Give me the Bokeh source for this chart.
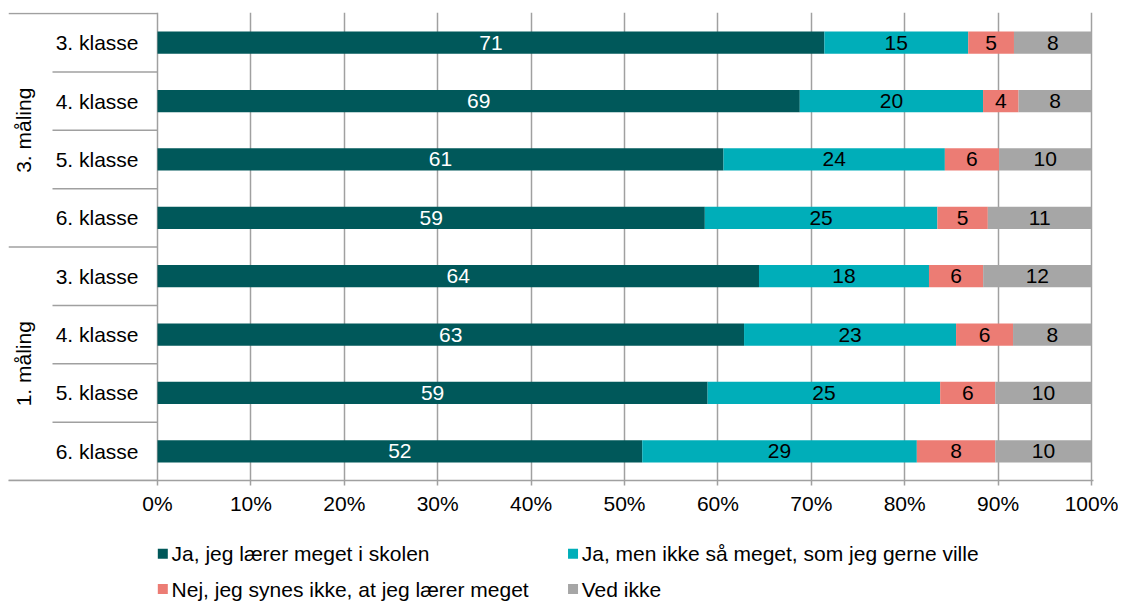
import numpy as np
from bokeh.plotting import figure
from bokeh.models import ColumnDataSource, Range1d, FixedTicker, NumeralTickFormatter
from bokeh.layouts import column
from bokeh.core.properties import value
from bokeh.embed import file_html
from bokeh.resources import INLINE

# ---------------- data ----------------
groups = ["3. måling", "1. måling"]
classes = ["3. klasse", "4. klasse", "5. klasse", "6. klasse"]
series = [
    "Ja, jeg lærer meget i skolen",
    "Ja, men ikke så meget, som jeg gerne ville",
    "Nej, jeg synes ikke, at jeg lærer meget",
    "Ved ikke",
]
# rows top to bottom: 3. måling (3.-6. klasse), then 1. måling (3.-6. klasse)
ja_meget = [71.4, 68.7, 60.6, 58.6, 64.4, 62.8, 58.9, 51.9]
ja_ikke_saa = [15.4, 19.6, 23.7, 24.9, 18.2, 22.7, 24.9, 29.4]
nej = [4.9, 3.8, 5.8, 5.4, 5.8, 6.1, 5.9, 8.4]
ved_ikke = [8.3, 7.8, 9.9, 11.1, 11.6, 8.4, 10.3, 10.3]
tick_values = [0, 10, 20, 30, 40, 50, 60, 70, 80, 90, 100]

colors = ["#00585a", "#00aeb9", "#ec7c74", "#a6a6a6"]
label_colors = ["white", "black", "black", "black"]
FONT = "Liberation Sans"
FS = "21px"
GRID = "#a0a0a0"

# ---------------- layout constants (pixels) ----------------
W = 1118
px_per_unit = 934.0        # 0% -> 100%
frame_left = 8
left_px = 149.0            # frame left to 0%
right_px = 2.0
frame_top = 12
row_px = 58.375
bottom_border = 45
sub_sep_px = 105.0         # sub-separator length left of axis

vals = np.array([ja_meget, ja_ikke_saa, nej, ved_ikke], dtype=float)  # 4 x 8
tot = vals.sum(axis=0)
frac = vals / tot
n = vals.shape[1]
ys = np.arange(n) + 0.5

frame_h = int(round(n * row_px + 1))
H_MAIN = frame_top + frame_h + bottom_border
H_LEG = 601 - H_MAIN
frame_w = int(left_px + px_per_unit + right_px)

src = ColumnDataSource(dict(y=ys, s0=frac[0], s1=frac[1], s2=frac[2], s3=frac[3]))

p = figure(
    width=W, height=H_MAIN,
    x_range=Range1d(-left_px / px_per_unit, 1 + right_px / px_per_unit),
    y_range=Range1d(n, -1.0 / row_px),
    output_backend="svg", toolbar_location=None,
    y_axis_location=None,
    min_border_left=frame_left, min_border_right=W - frame_left - frame_w,
    min_border_top=frame_top, min_border_bottom=bottom_border,
)
p.outline_line_color = None
p.ygrid.visible = False
ticks = [t / 100 for t in tick_values]
p.xgrid.ticker = FixedTicker(ticks=ticks)
p.xgrid.grid_line_color = GRID
p.xgrid.grid_line_width = 1.5

ax = p.xaxis[0]
ax.ticker = FixedTicker(ticks=ticks)
ax.formatter = NumeralTickFormatter(format="0%")
ax.axis_line_color = GRID
ax.axis_line_width = 1.5
ax.major_tick_line_color = GRID
ax.major_tick_line_width = 1.5
ax.major_tick_in = 0
ax.major_tick_out = 5
ax.minor_tick_line_color = None
ax.major_label_text_font = FONT
ax.major_label_text_font_size = FS
ax.major_label_text_color = "black"
ax.major_label_standoff = 6

# separators in the category area
x0s, x1s, y0s = [], [], []
xmin = -left_px / px_per_unit
for k in range(n + 1):
    if k % 4 == 0:
        x0s.append(xmin)
    else:
        x0s.append(-sub_sep_px / px_per_unit)
    x1s.append(0)
    y0s.append(k)
p.segment(x0=x0s, y0=y0s, x1=x1s, y1=y0s, line_color=GRID, line_width=1.5)

# bars
p.hbar_stack(["s0", "s1", "s2", "s3"], y="y", height=0.382, color=colors,
             line_color=None, source=src)

# bar labels
cum = np.cumsum(frac, axis=0) - frac
lx, ly, lt, lc = [], [], [], []
for s in range(vals.shape[0]):
    for r in range(n):
        lx.append(cum[s, r] + frac[s, r] / 2)
        ly.append(ys[r])
        lt.append(str(int(np.floor(vals[s, r] + 0.5))))
        lc.append(label_colors[s])
lsrc = ColumnDataSource(dict(x=lx, y=ly, t=lt, c=lc))
p.text(x="x", y="y", text="t", text_color="c", source=lsrc,
       text_align="center", text_baseline="middle",
       text_font=value(FONT), text_font_size=FS)

# category labels
p.text(x=[0] * n, y=list(ys), text=classes * len(groups), x_offset=-19,
       text_align="right", text_baseline="middle",
       text_font=value(FONT), text_font_size=FS, text_color="black")

# group labels
p.text(x=[0] * len(groups), y=[2 + 4 * g for g in range(len(groups))], text=groups,
       angle=np.pi / 2, x_offset=-134,
       text_align="center", text_baseline="middle",
       text_font=value(FONT), text_font_size=FS, text_color="black")

# ---------------- legend figure ----------------
p2 = figure(width=W, height=H_LEG, x_range=Range1d(0, W), y_range=Range1d(H_LEG, 0),
            output_backend="svg", toolbar_location=None,
            x_axis_location=None, y_axis_location=None,
            min_border_left=0, min_border_right=0, min_border_top=0, min_border_bottom=0)
p2.outline_line_color = None
p2.xgrid.visible = False
p2.ygrid.visible = False
col_x = [159.0, 581.7]
row_y = [28.3, 63.5]
mx, my, tx = [], [], []
for i in range(len(series)):
    mx.append(col_x[i % 2])
    my.append(row_y[i // 2])
    tx.append(col_x[i % 2] + 9)
p2.scatter(x=mx, y=my, marker="square", size=10, color=colors, line_color=None)
p2.text(x=tx, y=my, text=series, text_align="left", text_baseline="middle",
        text_font=value(FONT), text_font_size=FS, text_color="black")

layout = column(p, p2, spacing=0)
open("out.html", "w").write(file_html(layout, INLINE))
